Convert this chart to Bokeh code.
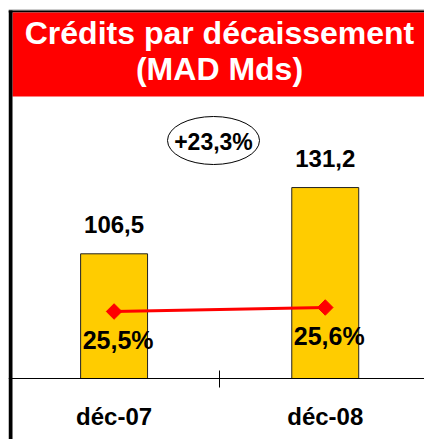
import numpy as np
from bokeh.plotting import figure
from bokeh.models import Range1d, LinearAxis, FixedTicker, ColumnDataSource
from bokeh.core.properties import value
from bokeh.embed import file_html
from bokeh.resources import INLINE

# ---- data ----
categories = ["déc-07", "déc-08"]
credits = [106.5, 131.2]
credit_labels = ["106,5", "131,2"]
ratio = [25.5, 25.6]
ratio_labels = ["25,5%", "25,6%"]
growth_label = "+23,3%"
title_lines = ["Crédits par décaissement", "(MAD Mds)"]

FONT = "Liberation Sans"
W, H = 416, 431  # frame size; page margin added via min_border

xpos = [i + 0.5 for i in range(len(categories))]

p = figure(width=W + 8, height=H + 8, output_backend="svg", toolbar_location=None,
           x_range=Range1d(0, 1.97), y_range=Range1d(37.26, 197.96),
           x_axis_type=None, y_axis_type=None,
           min_border=0, min_border_left=8, min_border_right=0,
           min_border_top=8, min_border_bottom=0)
p.outline_line_color = None
p.background_fill_color = "white"
p.border_fill_color = "white"
p.xgrid.visible = False
p.ygrid.visible = False

p.extra_y_ranges = {"pct": Range1d(22.3, 33.075), "py": Range1d(H, 0)}
p.extra_x_ranges = {"px": Range1d(0, W)}

# frame decorations (pixel ranges), drawn first
dec = ColumnDataSource(dict(
    left=[0, 0, 4, 0], right=[W, W, W, 4], top=[1, 2, 4, 2], bottom=[2, 4, 88, H],
    c=["#999999", "black", "#FF0000", "black"]))
p.quad(left="left", right="right", top="top", bottom="bottom", source=dec,
       fill_color="c", line_color=None, x_range_name="px", y_range_name="py")

# bars
src = ColumnDataSource(dict(x=xpos, top=credits, lab=credit_labels,
                            r=ratio, rlab=ratio_labels))
p.vbar(x="x", top="top", bottom=60, width=0.317, source=src,
       fill_color="#FFCC00", line_color="#222222", line_width=1)
p.text(x="x", y="top", text="lab", source=src, y_offset=-29,
       text_align="center", text_baseline="alphabetic",
       text_font=value(FONT), text_font_style="bold",
       text_font_size="24px", text_color="black")

# ratio line
p.line(x="x", y="r", source=src, y_range_name="pct",
       line_color="#FF0000", line_width=3)
p.scatter(x="x", y="r", source=src, y_range_name="pct", marker="square",
          angle=np.pi / 4, size=11, fill_color="#FF0000", line_color="#FF0000")
p.text(x="x", y="r", text="rlab", source=src, y_range_name="pct",
       x_offset=4, y_offset=28, text_align="center",
       text_baseline="alphabetic", text_font=value(FONT),
       text_font_style="bold", text_font_size="25px", text_color="black")

# x axis
xaxis = LinearAxis(ticker=FixedTicker(ticks=xpos, minor_ticks=[1.0]),
                   major_label_overrides={xv: c for xv, c in zip(xpos, categories)},
                   fixed_location=60)
xaxis.axis_line_color = "black"
xaxis.axis_line_width = 1
xaxis.major_tick_line_color = None
xaxis.major_tick_in = 0
xaxis.major_tick_out = 0
xaxis.minor_tick_line_color = "black"
xaxis.minor_tick_in = 8
xaxis.minor_tick_out = 9
xaxis.major_label_standoff = 15
xaxis.major_label_text_font = FONT
xaxis.major_label_text_font_style = "bold"
xaxis.major_label_text_font_size = "24px"
xaxis.major_label_text_color = "black"
p.add_layout(xaxis, "below")

# title
tsrc = ColumnDataSource(dict(x=[211, 211], y=[24.5, 60.7], t=title_lines))
p.text(x="x", y="y", text="t", source=tsrc, x_range_name="px", y_range_name="py",
       text_align="center", text_baseline="alphabetic", text_font=value(FONT),
       text_font_style="bold", text_font_size="32px", text_color="white")

# growth ellipse
p.ellipse(x=[205], y=[132], width=92, height=48, width_units="screen",
          height_units="screen", x_range_name="px", y_range_name="py",
          fill_color="white", line_color="black", line_width=1)
p.text(x=[205], y=[133], text=[growth_label], x_range_name="px", y_range_name="py",
       text_align="center", text_baseline="alphabetic", text_font=value(FONT),
       text_font_style="bold", text_font_size="23px", text_color="black")

open("out.html", "w").write(file_html(p, INLINE))
